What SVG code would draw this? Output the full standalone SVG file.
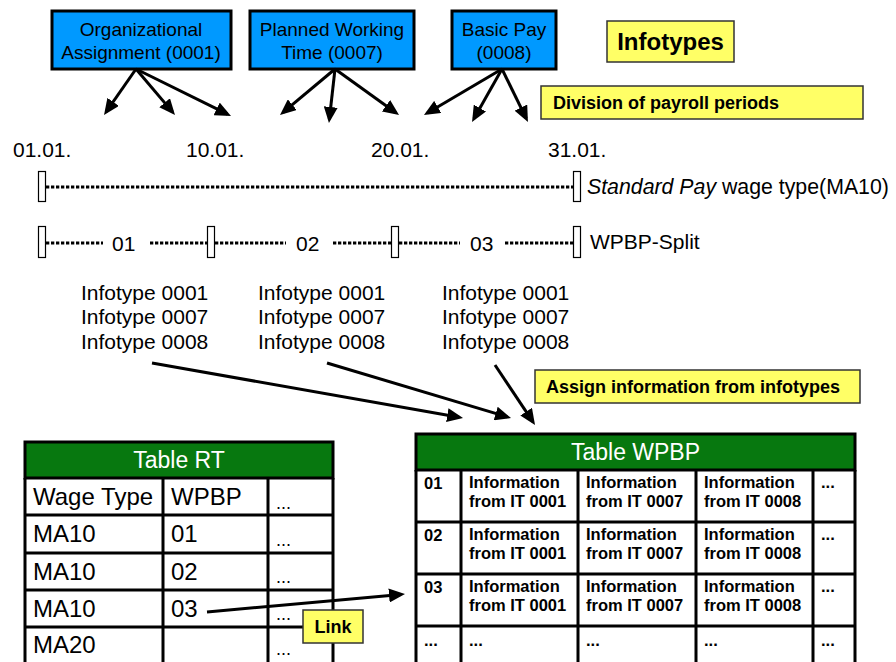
<svg xmlns="http://www.w3.org/2000/svg" width="896" height="662" viewBox="0 0 896 662">
<style>
text{font-family:"Liberation Sans",Arial,sans-serif;fill:#000}
.it{fill:#0099ff;stroke:#000;stroke-width:3}
.lbl{font-size:19px;text-anchor:middle}
.note{fill:#ffff66;stroke:#333;stroke-width:1.5}
.nt{font-size:18px;font-weight:bold}
.body{font-size:21px}
.mk{fill:#fff;stroke:#000;stroke-width:1.2}
.dot{stroke:#000;stroke-width:3;stroke-dasharray:3.3 1.7;fill:none}
.arr{stroke:#000;stroke-width:3;fill:none;marker-end:url(#ah)}
.hdr{fill:#07780f;stroke:#000;stroke-width:3}
.ht{font-size:23px;fill:#fff;text-anchor:middle}
.grid{stroke:#000;stroke-width:3;fill:none}
.rt{font-size:24px}
.dd{font-size:18px;fill:#444}
.wb{font-size:16.5px;font-weight:bold}
</style>
<defs>
<marker id="ah" viewBox="0 0 16 14" refX="12" refY="7" markerUnits="strokeWidth" markerWidth="5.333" markerHeight="4.667" orient="auto">
<path d="M0,0 L16,7 L0,14 z" fill="#000"/>
</marker>
</defs>
<rect width="896" height="662" fill="#fff"/>

<g id="it0001">
<rect class="it" x="52" y="11" width="179" height="58"/>
<text class="lbl" x="141" y="36">Organizational</text>
<text class="lbl" x="141" y="59">Assignment (0001)</text>
</g>
<g id="it0007">
<rect class="it" x="250" y="11" width="164" height="58"/>
<text class="lbl" x="332" y="36">Planned Working</text>
<text class="lbl" x="332" y="59">Time (0007)</text>
</g>
<g id="it0008">
<rect class="it" x="452" y="11" width="104" height="58"/>
<text class="lbl" x="504" y="36">Basic Pay</text>
<text class="lbl" x="504" y="59">(0008)</text>
</g>
<g id="infotypes">
<rect class="note" x="607" y="21" width="127" height="41"/>
<text x="670.5" y="50" font-size="24" font-weight="bold" text-anchor="middle">Infotypes</text>
</g>
<g id="division">
<rect class="note" x="541" y="86" width="322" height="33"/>
<text class="nt" x="553" y="109">Division of payroll periods</text>
</g>

<g id="dates" class="body">
<text x="13" y="157">01.01.</text>
<text x="186" y="157">10.01.</text>
<text x="371" y="157">20.01.</text>
<text x="548" y="157">31.01.</text>
</g>

<g id="standard-pay">
<line class="dot" x1="46" y1="187" x2="573" y2="187"/>
<rect class="mk" x="38.5" y="171.5" width="7" height="30"/>
<rect class="mk" x="573.5" y="171.5" width="7" height="30"/>
<text x="587" y="194" font-size="21.3"><tspan font-style="italic">Standard Pay</tspan> wage type(MA10)</text>
</g>

<g id="wpbp-split">
<line class="dot" x1="46" y1="243" x2="103" y2="243"/>
<line class="dot" x1="150" y1="243" x2="207" y2="243"/>
<line class="dot" x1="215" y1="243" x2="286" y2="243"/>
<line class="dot" x1="333" y1="243" x2="391" y2="243"/>
<line class="dot" x1="399" y1="243" x2="460" y2="243"/>
<line class="dot" x1="505" y1="243" x2="573" y2="243"/>
<rect class="mk" x="38.5" y="226.5" width="7" height="31"/>
<rect class="mk" x="207.5" y="226.5" width="7" height="31"/>
<rect class="mk" x="391.5" y="226.5" width="7" height="31"/>
<rect class="mk" x="573.5" y="226.5" width="7" height="31"/>
<text class="body" x="112" y="251">01</text>
<text class="body" x="296" y="251">02</text>
<text class="body" x="470" y="251">03</text>
<text class="body" x="590" y="249">WPBP-Split</text>
</g>

<g id="period-infotypes" class="body">
<text x="81" y="300">Infotype 0001</text>
<text x="81" y="324">Infotype 0007</text>
<text x="81" y="349">Infotype 0008</text>
<text x="258" y="300">Infotype 0001</text>
<text x="258" y="324">Infotype 0007</text>
<text x="258" y="349">Infotype 0008</text>
<text x="442" y="300">Infotype 0001</text>
<text x="442" y="324">Infotype 0007</text>
<text x="442" y="349">Infotype 0008</text>
</g>

<g id="assign">
<rect class="note" x="535" y="370" width="325" height="33"/>
<text class="nt" x="546" y="393">Assign information from infotypes</text>
</g>

<g id="table-rt">
<rect class="hdr" x="25" y="442" width="308" height="36"/>
<text class="ht" x="179" y="468">Table RT</text>
<path class="grid" d="M25,478 V665 M333,478 V665 M163,478 V665 M268,478 V665 M25,515 H333 M25,553 H333 M25,590 H333 M25,627 H333"/>
<g class="rt">
<text x="33" y="505">Wage Type</text><text x="171" y="505">WPBP</text>
<text x="33" y="542">MA10</text><text x="171" y="542">01</text>
<text x="33" y="580">MA10</text><text x="171" y="580">02</text>
<text x="33" y="617">MA10</text><text x="171" y="617">03</text>
<text x="33" y="653">MA20</text>
</g>
<g class="dd">
<text x="276" y="509">...</text>
<text x="276" y="546">...</text>
<text x="276" y="583">...</text>
<text x="276" y="620">...</text>
<text x="276" y="655">...</text>
</g>
</g>

<g id="table-wpbp">
<rect class="hdr" x="416" y="434" width="439" height="36"/>
<text class="ht" x="635.5" y="460">Table WPBP</text>
<path class="grid" d="M416,470 V665 M855,470 V665 M461,470 V665 M578,470 V665 M696,470 V665 M813,470 V665 M416,522 H855 M416,574 H855 M416,626 H855"/>
<g class="wb">
<text x="424" y="489">01</text>
<text x="469" y="488">Information</text><text x="469" y="507">from IT 0001</text>
<text x="586" y="488">Information</text><text x="586" y="507">from IT 0007</text>
<text x="704" y="488">Information</text><text x="704" y="507">from IT 0008</text>
<text x="821" y="488">...</text>
<text x="424" y="541">02</text>
<text x="469" y="540">Information</text><text x="469" y="559">from IT 0001</text>
<text x="586" y="540">Information</text><text x="586" y="559">from IT 0007</text>
<text x="704" y="540">Information</text><text x="704" y="559">from IT 0008</text>
<text x="821" y="540">...</text>
<text x="424" y="593">03</text>
<text x="469" y="592">Information</text><text x="469" y="611">from IT 0001</text>
<text x="586" y="592">Information</text><text x="586" y="611">from IT 0007</text>
<text x="704" y="592">Information</text><text x="704" y="611">from IT 0008</text>
<text x="821" y="592">...</text>
<text x="424" y="646">...</text>
<text x="469" y="646">...</text>
<text x="586" y="646">...</text>
<text x="704" y="646">...</text>
<text x="821" y="646">...</text>
</g>
</g>

<g id="connectors">
<line class="arr" x1="136" y1="69" x2="106.3" y2="111.7"/>
<line class="arr" x1="136" y1="69" x2="172.4" y2="111.9"/>
<line class="arr" x1="136" y1="69" x2="227.4" y2="114.2"/>
<line class="arr" x1="335" y1="69" x2="283.1" y2="112.4"/>
<line class="arr" x1="335" y1="69" x2="329.4" y2="119"/>
<line class="arr" x1="335" y1="69" x2="395.8" y2="112.7"/>
<line class="arr" x1="502" y1="69" x2="427.4" y2="113"/>
<line class="arr" x1="502" y1="69" x2="474" y2="118.5"/>
<line class="arr" x1="502" y1="69" x2="526.2" y2="118.4"/>
<line class="arr" x1="152" y1="363" x2="459.1" y2="417.3"/>
<line class="arr" x1="327" y1="363" x2="507.2" y2="416.9"/>
<line class="arr" x1="495" y1="365" x2="532.8" y2="421.7"/>
<line class="arr" x1="207" y1="612" x2="401" y2="594.4"/>
</g>

<g id="link">
<rect class="note" x="303" y="610" width="60" height="33"/>
<text class="nt" x="333" y="633" text-anchor="middle">Link</text>
</g>
</svg>
